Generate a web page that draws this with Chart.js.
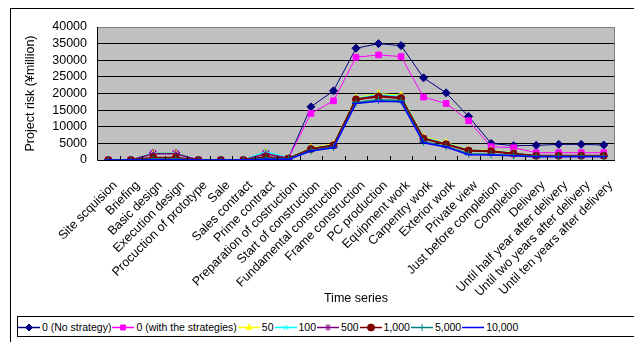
<!DOCTYPE html>
<html>
<head>
<meta charset="utf-8">
<script src="https://cdn.jsdelivr.net/npm/chart.js@4/dist/chart.umd.min.js"></script>
<style>
  body { margin: 0; background: #fff; width: 634px; height: 342px; overflow: hidden; position: relative; font-family: "Liberation Sans", Arial, sans-serif; }
  #frame { position: absolute; left: 10px; top: 8px; width: 660px; height: 400px; border: 1px solid #000; }
  #chart { position: absolute; left: 0; top: 0; }
  #legend { position: absolute; left: 17px; top: 316px; width: 660px; height: 19px; border: 1px solid #000; background: #fff;
            display: flex; align-items: center; font-size: 10.5px; white-space: nowrap; }
  #legend .item { display: flex; align-items: center; margin-right: 1px; }
  #legend canvas { margin-right: 2px; }
</style>
</head>
<body>
<div id="frame"></div>
<canvas id="chart" width="634" height="315"></canvas>
<div id="legend"></div>
<script>
const categories = [
  "Site scquision", "Briefing", "Basic design", "Execution design", "Procuction of prototype",
  "Sale", "Sales contract", "Prime contract", "Preparation of costruction", "Start of construction",
  "Fundamental construction", "Frame construction", "PC production", "Equipment work",
  "Carpentry work", "Exterior work", "Private view", "Just before completion", "Completion",
  "Delivery", "Until half year after delivery", "Until two years after delivery",
  "Until ten years after delivery"
];

const seriesNames = ["0 (No strategy)", "0 (with the strategies)", "50", "100", "500", "1,000", "5,000", "10,000"];

const noStrategy     = [0, 0, 2100, 2100, 0, 0, 0, 2200, 500, 16000, 20800, 33600, 35000, 34400, 24700, 20200, 13100, 5000, 4300, 4400, 4700, 4700, 4500];
const withStrategies = [0, 0, 2000, 2000, 0, 0, 0, 2000, 500, 14000, 17800, 30900, 31600, 31100, 18900, 17000, 11800, 4000, 3700, 2200, 2200, 2200, 2200];
const s50    = [0, 0, 2000, 2000, 0, 0, 0, 2300, 600, 3700, 4700, 18700, 19900, 19400, 6900, 5200, 3100, 2900, 2100, 1300, 1300, 1300, 1300];
const s100   = [0, 0, 2000, 2000, 0, 0, 0, 2500, 600, 3500, 4500, 18500, 19600, 19100, 6700, 5000, 3000, 2800, 2000, 1300, 1300, 1300, 1300];
const s500   = [0, 0, 1900, 1900, 0, 0, 0, 1900, 500, 3400, 4400, 18300, 19300, 18800, 6500, 4800, 2900, 2700, 1900, 1300, 1300, 1300, 1300];
const s1000  = [0, 0, 700, 700, 0, 0, 0, 900, 400, 3300, 4400, 18200, 19100, 18600, 6400, 4700, 2800, 2600, 1900, 1300, 1300, 1300, 1300];
const s5000  = [0, 0, 300, 300, 0, 0, 0, 500, 300, 2900, 3900, 17300, 18100, 17900, 5500, 4100, 1900, 1700, 1400, 1100, 1100, 1100, 1100];
const s10000 = [0, 0, 100, 100, 0, 0, 0, 200, 200, 2700, 3700, 17000, 17700, 17500, 5200, 3900, 1600, 1500, 1300, 1000, 1000, 1000, 1000];

const yMin = 0, yMax = 40000, yStep = 5000;

const seriesData = [noStrategy, withStrategies, s50, s100, s500, s1000, s5000, s10000];
const colors = ["#000080", "#FF00FF", "#FFFF00", "#00FFFF", "#800080", "#800000", "#008080", "#0000FF"];
const markers = ["rectRot", "rect", "triangle", "crossRot", "star", "circle", "cross", "line"];
const markerSize = [4, 4, 4, 4, 4, 3.5, 4, 4];
const lineWidths = [1, 1, 1.5, 1.5, 1.5, 2, 1.5, 1.5];

const datasets = seriesData.map((d, i) => ({
  label: seriesNames[i],
  data: d,
  borderColor: colors[i],
  backgroundColor: colors[i],
  borderWidth: lineWidths[i],
  pointStyle: markers[i],
  pointRadius: markerSize[i],
  pointBorderWidth: 1,
  pointBorderColor: colors[i],
  pointBackgroundColor: colors[i],
  tension: 0,
  order: seriesData.length - i
}));

// grey plot background, plot border and inside tick marks like the original
const plotArea = {
  id: "plotArea",
  beforeDraw(chart) {
    const a = chart.chartArea, ctx = chart.ctx;
    ctx.save();
    ctx.fillStyle = "#C0C0C0";
    ctx.fillRect(a.left, a.top, a.right - a.left, a.bottom - a.top);
    ctx.restore();
  },
  afterDatasetsDraw(chart) {
    const a = chart.chartArea, ctx = chart.ctx;
    const x = chart.scales.x;
    ctx.save();
    ctx.strokeStyle = "#808080";
    ctx.lineWidth = 1;
    ctx.strokeRect(a.left + 0.5, a.top + 0.5, a.right - a.left - 1, a.bottom - a.top);
    ctx.strokeStyle = "#000";
    ctx.beginPath();
    ctx.moveTo(a.left + 0.5, a.top);
    ctx.lineTo(a.left + 0.5, a.bottom + 0.5);
    ctx.lineTo(a.right, a.bottom + 0.5);
    const n = categories.length;
    for (let i = 1; i < n; i++) {
      const px = Math.round(x.left + i * (x.right - x.left) / n) + 0.5;
      ctx.moveTo(px, a.bottom);
      ctx.lineTo(px, a.bottom - 4);
    }
    ctx.stroke();
    ctx.restore();
  }
};

new Chart(document.getElementById("chart"), {
  type: "line",
  data: { labels: categories, datasets: datasets },
  plugins: [plotArea],
  options: {
    responsive: false,
    animation: false,
    layout: { padding: { left: 18, right: 19, top: 27, bottom: 9 } },
    plugins: { legend: { display: false }, tooltip: { enabled: false } },
    scales: {
      x: {
        offset: true,
        grid: { display: false, drawTicks: false },
        border: { display: false },
        ticks: {
          autoSkip: false, minRotation: 45, maxRotation: 45, padding: 18, labelOffset: 7,
          color: "#000", font: { family: "Liberation Sans, Arial, sans-serif", size: 12.5 }
        },
        title: {
          display: true, text: "Time series", color: "#000", padding: { top: 0, bottom: 0 },
          font: { family: "Liberation Sans, Arial, sans-serif", size: 12.5 }
        },
        afterFit(scale) { scale.height = 146; }
      },
      y: {
        min: yMin, max: yMax,
        grid: { color: "#000", lineWidth: 1, drawTicks: false },
        border: { display: false },
        ticks: {
          stepSize: yStep, autoSkip: false, padding: 10, color: "#000",
          font: { family: "Liberation Sans, Arial, sans-serif", size: 12.5 },
          callback: v => String(v)
        },
        title: {
          display: true, text: "Project risk (¥million)", color: "#000", padding: { top: 5, bottom: 0 },
          font: { family: "Liberation Sans, Arial, sans-serif", size: 12.5 }
        },
        afterFit(scale) { scale.width = 79; }
      }
    }
  }
});

// legend with line + marker icons
const legendBox = document.getElementById("legend");
seriesNames.forEach((name, i) => {
  const item = document.createElement("div");
  item.className = "item";
  const c = document.createElement("canvas");
  c.width = 22; c.height = 12;
  const ctx = c.getContext("2d");
  ctx.strokeStyle = colors[i];
  ctx.fillStyle = colors[i];
  ctx.lineWidth = 1.5;
  ctx.beginPath();
  ctx.moveTo(0, 6.5); ctx.lineTo(22, 6.5);
  ctx.stroke();
  if (Chart.helpers && Chart.helpers.drawPoint) {
    ctx.lineWidth = 1;
    Chart.helpers.drawPoint(ctx, { pointStyle: markers[i], radius: 3.5, borderWidth: 1, rotation: 0 }, 11, 6.5);
  }
  const label = document.createElement("span");
  label.textContent = name;
  item.appendChild(c);
  item.appendChild(label);
  legendBox.appendChild(item);
});
</script>
</body>
</html>
